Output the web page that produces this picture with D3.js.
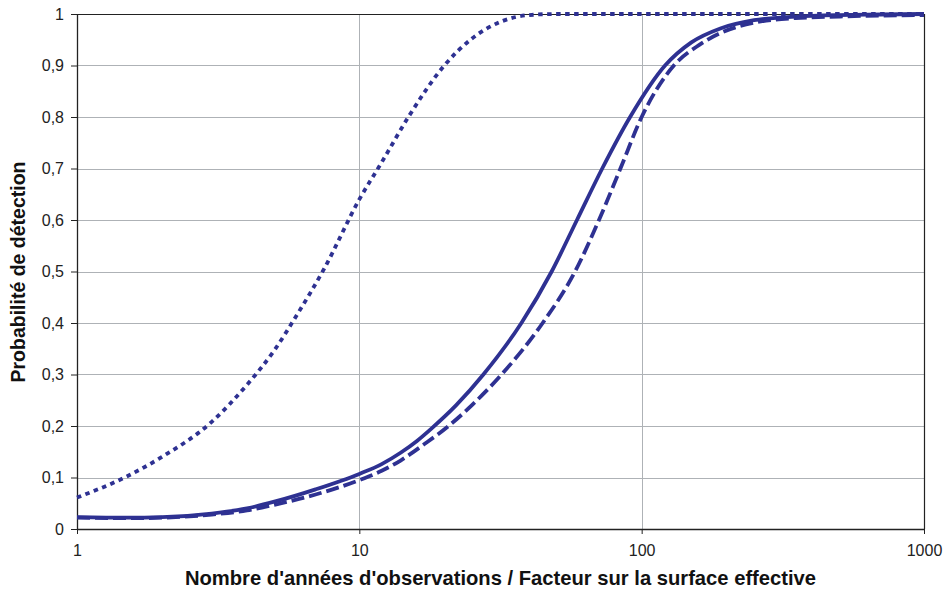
<!DOCTYPE html>
<html>
<head>
<meta charset="utf-8">
<script src="https://cdn.jsdelivr.net/npm/d3@7/dist/d3.min.js"></script>
<style>
  html, body { margin: 0; padding: 0; background: #fff; }
  svg { display: block; font-family: "Liberation Sans", Arial, sans-serif; }
</style>
</head>
<body>
<svg id="chart" width="943" height="590"></svg>
<script>
// ---- data ----
const solidX = [1, 1.5, 2, 3, 4, 5, 7, 10, 12, 14, 16, 18, 22, 27.5, 37.5, 48, 59, 72.5, 91, 121, 150, 190, 250, 350, 500, 700, 1000];
const solidY = [0.023, 0.022, 0.023, 0.030, 0.040, 0.053, 0.077, 0.107, 0.126, 0.148, 0.171, 0.195, 0.240, 0.300, 0.400, 0.500, 0.600, 0.700, 0.800, 0.900, 0.945, 0.972, 0.988, 0.995, 0.998, 0.999, 1.000];

const dashedX = [1, 1.5, 2, 3, 4, 5, 7, 10, 12, 14, 17, 20.7, 25, 31.9, 44.6, 58.1, 70.6, 84.1, 100, 130, 160, 190, 250, 350, 500, 700, 1000];
const dashedY = [0.022, 0.021, 0.022, 0.028, 0.036, 0.047, 0.067, 0.095, 0.113, 0.133, 0.165, 0.200, 0.240, 0.300, 0.400, 0.500, 0.600, 0.700, 0.800, 0.900, 0.940, 0.963, 0.983, 0.992, 0.995, 0.997, 0.998];

const dottedX = [1, 1.5, 2, 3, 4, 5, 6, 7.5, 10, 12, 15, 20, 25, 32, 40, 50, 100, 1000];
const dottedY = [0.061, 0.102, 0.140, 0.208, 0.280, 0.347, 0.415, 0.505, 0.640, 0.712, 0.802, 0.900, 0.952, 0.986, 0.998, 1.000, 1.000, 1.000];

const xTicks = [1, 10, 100, 1000];
const xTickLabels = ["1", "10", "100", "1000"];
const yTicks = [0, 0.1, 0.2, 0.3, 0.4, 0.5, 0.6, 0.7, 0.8, 0.9, 1];
const yTickLabels = ["0", "0,1", "0,2", "0,3", "0,4", "0,5", "0,6", "0,7", "0,8", "0,9", "1"];

const xTitle = "Nombre d'années d'observations / Facteur sur la surface effective";
const yTitle = "Probabilité de détection";

// ---- layout ----
const svg = d3.select("#chart");
const mLeft = 77, mRight = 924, mTop = 14, mBottom = 529;
const lineColor = "#2e3192";

const x = d3.scaleLog().domain([1, 1000]).range([mLeft, mRight]);
const y = d3.scaleLinear().domain([0, 1]).range([mBottom, mTop]);

// gridlines
svg.append("g").selectAll("line")
  .data(yTicks.filter(d => d > 0 && d < 1))
  .join("line")
  .attr("x1", mLeft).attr("x2", mRight)
  .attr("y1", d => Math.round(y(d)) + 0.5).attr("y2", d => Math.round(y(d)) + 0.5)
  .attr("stroke", "#aeb2b6").attr("stroke-width", 1);

svg.append("g").selectAll("line")
  .data(xTicks.filter(d => d > 1 && d < 1000))
  .join("line")
  .attr("x1", d => Math.round(x(d)) + 0.5).attr("x2", d => Math.round(x(d)) + 0.5)
  .attr("y1", mTop).attr("y2", mBottom)
  .attr("stroke", "#aeb2b6").attr("stroke-width", 1);

// frame top/right
svg.append("line").attr("x1", mLeft).attr("x2", mRight).attr("y1", mTop + 0.5).attr("y2", mTop + 0.5)
  .attr("stroke", "#222").attr("stroke-width", 1.2);
svg.append("line").attr("x1", mRight + 0.5).attr("x2", mRight + 0.5).attr("y1", mTop).attr("y2", mBottom)
  .attr("stroke", "#222").attr("stroke-width", 1.2);

// axes
const xAxis = d3.axisBottom(x).tickValues(xTicks).tickFormat((d, i) => xTickLabels[i]).tickSize(5).tickSizeOuter(0);
const gx = svg.append("g").attr("transform", `translate(0,${mBottom})`).call(xAxis);
gx.select(".domain").attr("stroke", "#222").attr("stroke-width", 1.3);
gx.selectAll(".tick line").attr("stroke", "#222");
gx.selectAll(".tick text").attr("font-size", 16).attr("fill", "#222").attr("font-family", "Liberation Sans, Arial, sans-serif").attr("y", 12).attr("dy", "0.95em");

const yAxis = d3.axisLeft(y).tickValues(yTicks).tickFormat((d, i) => yTickLabels[i]).tickSize(6).tickSizeOuter(0);
const gy = svg.append("g").attr("transform", `translate(${mLeft},0)`).call(yAxis);
gy.select(".domain").attr("stroke", "#222").attr("stroke-width", 1.3);
gy.selectAll(".tick line").attr("stroke", "#222");
gy.selectAll(".tick text").attr("font-size", 16).attr("fill", "#222").attr("font-family", "Liberation Sans, Arial, sans-serif").attr("x", -13);

// lines
const line = d3.line().x(d => x(d[0])).y(d => y(d[1])).curve(d3.curveMonotoneX);
function draw(xs, ys, dash) {
  svg.append("path")
    .datum(xs.map((v, i) => [v, ys[i]]))
    .attr("d", line)
    .attr("fill", "none")
    .attr("stroke", lineColor)
    .attr("stroke-width", 3.8)
    .attr("stroke-dasharray", dash)
    .attr("stroke-linecap", "butt");
}
draw(solidX, solidY, null);
draw(dashedX, dashedY, "13,5");
draw(dottedX, dottedY, "4.5,4.5");

// titles
svg.append("text")
  .attr("x", (mLeft + mRight) / 2).attr("y", 585)
  .attr("text-anchor", "middle")
  .attr("font-size", 20.2).attr("font-weight", "bold").attr("fill", "#111")
  .text(xTitle);

svg.append("text")
  .attr("transform", `translate(25,${272}) rotate(-90)`)
  .attr("text-anchor", "middle")
  .attr("font-size", 19.5).attr("font-weight", "bold").attr("fill", "#111")
  .text(yTitle);
</script>
</body>
</html>
